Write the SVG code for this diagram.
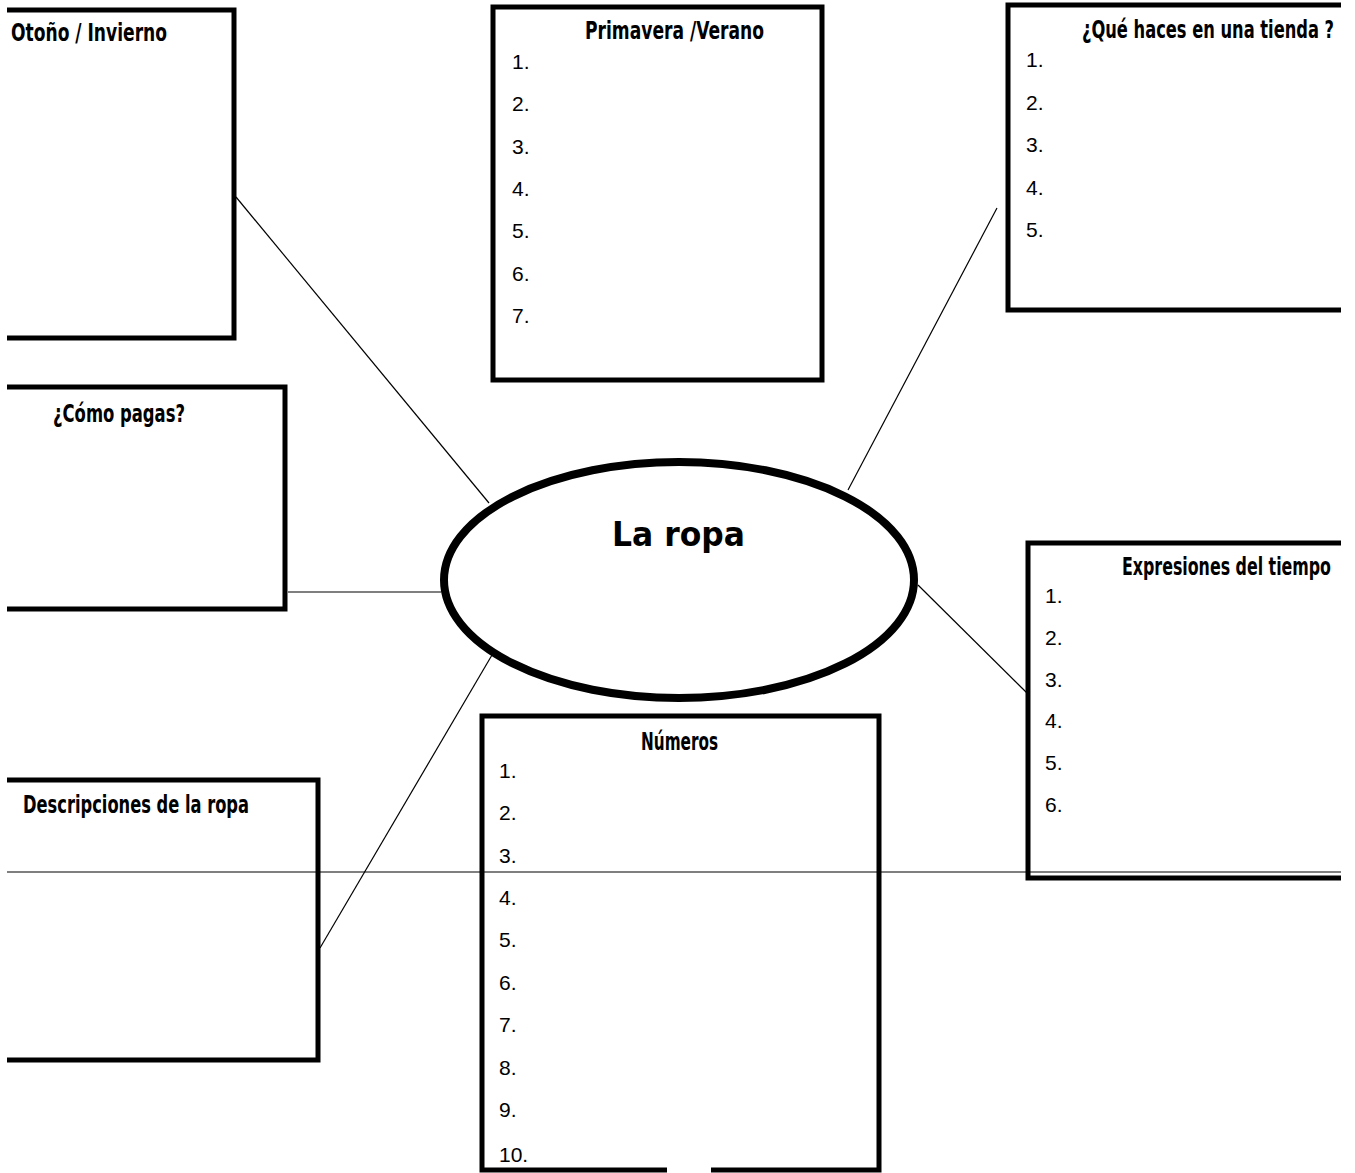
<svg xmlns="http://www.w3.org/2000/svg" width="1355" height="1173" viewBox="0 0 1355 1173">
<style>
.box{fill:none;stroke:#000;stroke-width:5;stroke-linejoin:miter}
.conn{stroke:#000;stroke-width:1.2;fill:none}
.title{font-family:"Liberation Sans Narrow","DejaVu Sans Condensed","Liberation Sans",sans-serif;font-weight:bold;font-size:24px;fill:#000}
.num{font-family:"Liberation Sans",Arial,sans-serif;font-size:21px;fill:#000}
.center{font-family:"DejaVu Sans","Liberation Sans",sans-serif;font-size:33px;font-weight:bold;fill:#000}
</style>
<rect width="1355" height="1173" fill="#fff"/>
<g id="connectors">
<line class="conn" x1="236" y1="197" x2="489" y2="503"/>
<line class="conn" x1="997" y1="208" x2="848" y2="490"/>
<line class="conn" x1="288" y1="592" x2="441" y2="592"/>
<line class="conn" x1="918" y1="585" x2="1027" y2="693"/>
<line class="conn" x1="320" y1="948" x2="492" y2="655"/>
<line class="conn" x1="7" y1="872" x2="1341" y2="872"/>
</g>
<g id="center">
<ellipse cx="679" cy="580" rx="235" ry="118" fill="none" stroke="#000" stroke-width="8"/>
<text class="center" x="612" y="546" textLength="133" lengthAdjust="spacingAndGlyphs">La ropa</text>
</g>
<g id="otono">
<path class="box" d="M7,10 H234 V338 H7"/>
<text class="title" x="11" y="41" textLength="156" lengthAdjust="spacingAndGlyphs">Otoño / Invierno</text>
</g>
<g id="primavera">
<rect class="box" x="493" y="7" width="329" height="373"/>
<text class="title" x="585" y="39" textLength="179" lengthAdjust="spacingAndGlyphs">Primavera /Verano</text>
<text class="num" x="512" y="69">1.</text>
<text class="num" x="512" y="111">2.</text>
<text class="num" x="512" y="154">3.</text>
<text class="num" x="512" y="196">4.</text>
<text class="num" x="512" y="238">5.</text>
<text class="num" x="512" y="281">6.</text>
<text class="num" x="512" y="323">7.</text>
</g>
<g id="tienda">
<path class="box" d="M1341,5 H1008 V310 H1341"/>
<text class="title" x="1082" y="38" textLength="252" lengthAdjust="spacingAndGlyphs">¿Qué haces en una tienda ?</text>
<text class="num" x="1026" y="67">1.</text>
<text class="num" x="1026" y="110">2.</text>
<text class="num" x="1026" y="152">3.</text>
<text class="num" x="1026" y="195">4.</text>
<text class="num" x="1026" y="237">5.</text>
</g>
<g id="pagas">
<path class="box" d="M7,387 H285 V609 H7"/>
<text class="title" x="53" y="422" textLength="132" lengthAdjust="spacingAndGlyphs">¿Cómo pagas?</text>
</g>
<g id="expresiones">
<path class="box" d="M1341,543 H1028 V878 H1341"/>
<text class="title" x="1122" y="575" textLength="209" lengthAdjust="spacingAndGlyphs">Expresiones del tiempo</text>
<text class="num" x="1045" y="603">1.</text>
<text class="num" x="1045" y="645">2.</text>
<text class="num" x="1045" y="687">3.</text>
<text class="num" x="1045" y="728">4.</text>
<text class="num" x="1045" y="770">5.</text>
<text class="num" x="1045" y="812">6.</text>
</g>
<g id="descripciones">
<path class="box" d="M7,780 H318 V1060 H7"/>
<text class="title" x="23" y="813" textLength="226" lengthAdjust="spacingAndGlyphs">Descripciones de la ropa</text>
</g>
<g id="numeros">
<path class="box" d="M667,1170 H482 V716 H879 V1170 H711"/>
<text class="title" x="641" y="750" textLength="77" lengthAdjust="spacingAndGlyphs">Números</text>
<text class="num" x="499" y="778">1.</text>
<text class="num" x="499" y="820">2.</text>
<text class="num" x="499" y="863">3.</text>
<text class="num" x="499" y="905">4.</text>
<text class="num" x="499" y="947">5.</text>
<text class="num" x="499" y="990">6.</text>
<text class="num" x="499" y="1032">7.</text>
<text class="num" x="499" y="1075">8.</text>
<text class="num" x="499" y="1117">9.</text>
<text class="num" x="499" y="1162">10.</text>
</g>
</svg>
